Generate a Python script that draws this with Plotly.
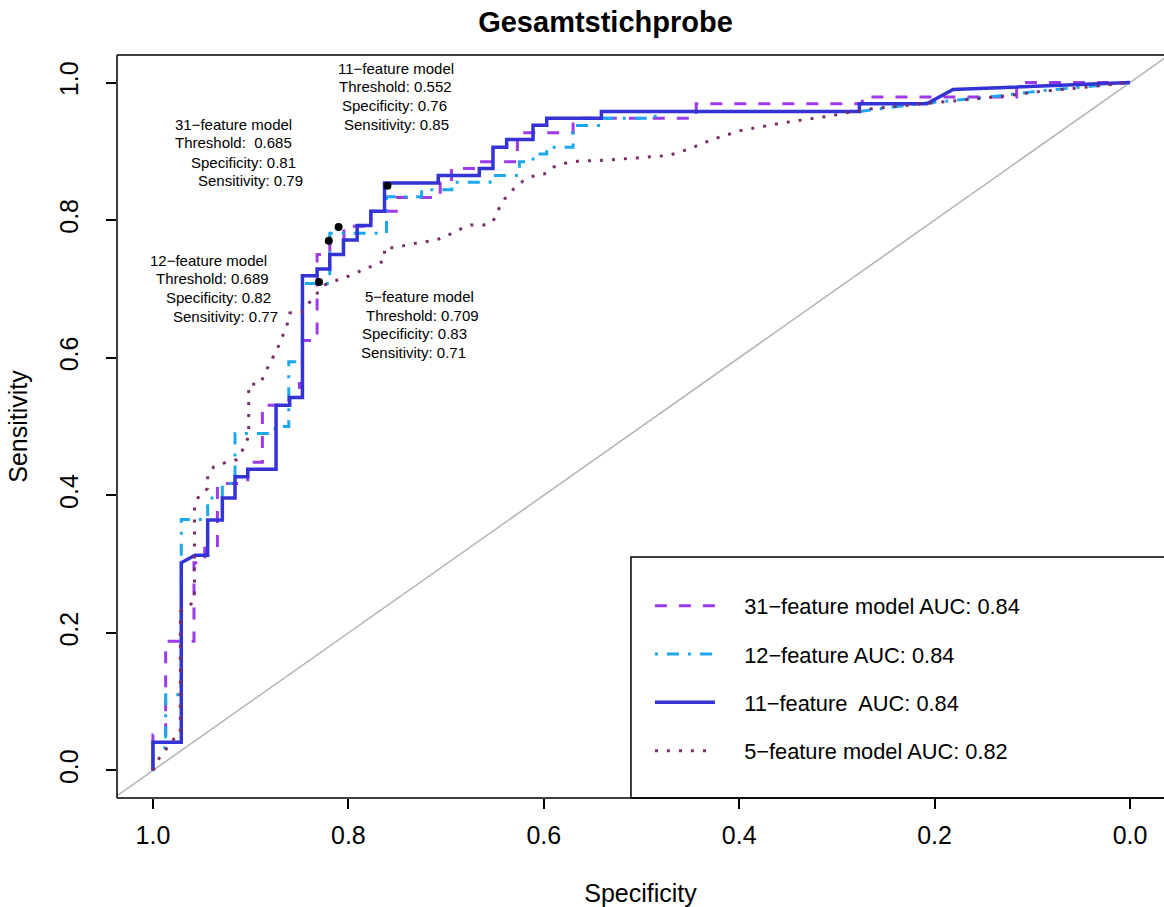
import plotly.graph_objects as go

# ROC curves (specificity, sensitivity) per model
spec_31 = [1.0, 1.0, 0.987, 0.987, 0.958, 0.958, 0.947, 0.947, 0.934, 0.934, 0.903, 0.903,
           0.888, 0.888, 0.861, 0.861, 0.850, 0.850, 0.847, 0.847, 0.832, 0.832, 0.819, 0.819,
           0.8045, 0.8045, 0.777, 0.777, 0.751, 0.751, 0.706, 0.706, 0.6945, 0.6945, 0.666, 0.666,
           0.627, 0.627, 0.570, 0.570, 0.444, 0.444, 0.274, 0.274, 0.116, 0.116, 0.0]
sens_31 = [0.0, 0.052, 0.052, 0.188, 0.188, 0.302, 0.302, 0.323, 0.323, 0.417, 0.417, 0.448,
           0.448, 0.531, 0.531, 0.542, 0.542, 0.5625, 0.5625, 0.625, 0.625, 0.750, 0.750, 0.771,
           0.771, 0.791, 0.791, 0.813, 0.813, 0.833, 0.833, 0.854, 0.854, 0.875, 0.875, 0.885,
           0.885, 0.927, 0.927, 0.948, 0.948, 0.969, 0.969, 0.979, 0.979, 1.0, 1.0]

spec_12 = [1.0, 1.0, 0.987, 0.987, 0.971, 0.971, 0.944, 0.944, 0.929, 0.929, 0.916, 0.916,
           0.875, 0.875, 0.861, 0.861, 0.847, 0.847, 0.819, 0.819, 0.761, 0.761, 0.725, 0.725,
           0.694, 0.694, 0.655, 0.655, 0.625, 0.625, 0.611, 0.611, 0.597, 0.597, 0.570, 0.570,
           0.540, 0.540, 0.486, 0.486, 0.277, 0.210, 0.150, 0.090, 0.0]
sens_12 = [0.0, 0.033, 0.033, 0.110, 0.110, 0.365, 0.365, 0.396, 0.396, 0.417, 0.417, 0.490,
           0.490, 0.500, 0.500, 0.594, 0.594, 0.708, 0.708, 0.781, 0.781, 0.834, 0.834, 0.844,
           0.844, 0.855, 0.855, 0.865, 0.865, 0.885, 0.885, 0.896, 0.896, 0.906, 0.906, 0.9375,
           0.9375, 0.948, 0.948, 0.958, 0.958, 0.970, 0.978, 0.988, 1.0]

spec_11 = [1.0, 1.0, 0.971, 0.971, 0.957, 0.944, 0.944, 0.929, 0.929, 0.916, 0.916, 0.903,
           0.903, 0.874, 0.874, 0.860, 0.860, 0.847, 0.847, 0.832, 0.832, 0.819, 0.819, 0.805,
           0.805, 0.791, 0.791, 0.777, 0.777, 0.763, 0.763, 0.708, 0.708, 0.666, 0.666, 0.652,
           0.652, 0.638, 0.638, 0.611, 0.611, 0.597, 0.597, 0.541, 0.541, 0.277, 0.277, 0.208,
           0.181, 0.040, 0.0]
sens_11 = [0.0, 0.041, 0.041, 0.302, 0.313, 0.313, 0.364, 0.364, 0.396, 0.396, 0.427, 0.427,
           0.438, 0.438, 0.531, 0.531, 0.542, 0.542, 0.719, 0.719, 0.729, 0.729, 0.750, 0.750,
           0.771, 0.771, 0.792, 0.792, 0.813, 0.813, 0.854, 0.854, 0.865, 0.865, 0.875, 0.875,
           0.906, 0.906, 0.917, 0.917, 0.938, 0.938, 0.948, 0.948, 0.958, 0.958, 0.969, 0.969,
           0.990, 0.998, 1.0]

spec_5 = [1.0, 0.994, 0.978, 0.972, 0.972, 0.962, 0.9575, 0.9575, 0.953, 0.944, 0.944, 0.938,
          0.925, 0.914, 0.907, 0.902, 0.902, 0.890, 0.885, 0.879, 0.873, 0.868, 0.863, 0.860,
          0.848, 0.836, 0.824, 0.811, 0.799, 0.786, 0.775, 0.763, 0.763, 0.751, 0.737, 0.724,
          0.710, 0.698, 0.687, 0.675, 0.661, 0.652, 0.647, 0.640, 0.631, 0.621, 0.609, 0.597,
          0.590, 0.577, 0.564, 0.537, 0.498, 0.472, 0.450, 0.428, 0.399, 0.357, 0.304, 0.291,
          0.264, 0.212, 0.171, 0.131, 0.092, 0.053, 0.0]
sens_5 = [0.0, 0.017, 0.047, 0.055, 0.231, 0.239, 0.252, 0.384, 0.399, 0.410, 0.428, 0.441,
          0.448, 0.452, 0.469, 0.486, 0.561, 0.5625, 0.579, 0.595, 0.612, 0.629, 0.646, 0.665,
          0.666, 0.687, 0.706, 0.713, 0.719, 0.727, 0.734, 0.741, 0.760, 0.760, 0.765, 0.768,
          0.771, 0.778, 0.786, 0.793, 0.793, 0.798, 0.814, 0.831, 0.845, 0.857, 0.865, 0.868,
          0.877, 0.883, 0.886, 0.887, 0.891, 0.894, 0.904, 0.917, 0.930, 0.941, 0.952, 0.956,
          0.962, 0.969, 0.974, 0.980, 0.987, 0.992, 1.0]

# Best thresholds per model
thr_models = ["31−feature model", "12−feature model", "11−feature model", "5−feature model"]
thr_values = ["0.685", "0.689", "0.552", "0.709"]
thr_spec = [0.81, 0.82, 0.76, 0.83]
thr_sens = [0.79, 0.77, 0.85, 0.71]

legend_names = ["31−feature model AUC: 0.84", "12−feature AUC: 0.84",
                "11−feature\u00a0 AUC: 0.84", "5−feature model AUC: 0.82"]
colors = ["#9D3BE8", "#1BA8EE", "#3333D6", "#7A2F6C"]
dashes = ["12px,12px", "3px,9px,12px,9px", "solid", "3px,9px"]
widths = [3, 3, 3.5, 3]

tick_vals = [1.0, 0.8, 0.6, 0.4, 0.2, 0.0]
tick_text = ["1.0", "0.8", "0.6", "0.4", "0.2", "0.0"]

FONT = "Liberation Sans, Arial, Helvetica, sans-serif"
LEGEND_PAD = "\u00a0" * 4  # gap between key line and legend text

fig = go.Figure()

# chance line
diag = [1.04, -0.04]
fig.add_trace(go.Scatter(x=diag, y=[1 - v for v in diag], mode="lines",
                         line=dict(color="#B3B3B3", width=1.5),
                         showlegend=False, hoverinfo="skip"))

curves = [(spec_31, sens_31), (spec_12, sens_12), (spec_11, sens_11), (spec_5, sens_5)]
for i, (xs, ys) in enumerate(curves):
    fig.add_trace(go.Scatter(x=xs, y=ys, mode="lines", name=LEGEND_PAD + legend_names[i],
                             legendgroup=f"g{i}",
                             line=dict(color=colors[i], width=widths[i], dash=dashes[i])))

fig.add_trace(go.Scatter(x=thr_spec, y=thr_sens, mode="markers",
                         marker=dict(color="black", size=8), showlegend=False))

# threshold text blocks, one annotation per line
label_left = [[0.9798, 0.9798, 0.9628, 0.9563],
              [1.0054, 0.9990, 0.9884, 0.9816],
              [0.8127, 0.8116, 0.8086, 0.8065],
              [0.7854, 0.7837, 0.7876, 0.7888]]
label_y = [[0.939, 0.9123, 0.8842, 0.8576],
           [0.7413, 0.7147, 0.6870, 0.6603],
           [1.0203, 0.9935, 0.9666, 0.9390],
           [0.689, 0.662, 0.635, 0.608]]
for i in range(4):
    sep = ":\u00a0 " if i == 0 else ": "
    lines = [thr_models[i],
             "Threshold" + sep + thr_values[i],
             "Specificity: " + f"{thr_spec[i]:.2f}",
             "Sensitivity: " + f"{thr_sens[i]:.2f}"]
    for j, txt in enumerate(lines):
        fig.add_annotation(x=label_left[i][j], y=label_y[i][j], text=txt, showarrow=False,
                           xanchor="left", yanchor="middle", xref="x", yref="y",
                           font=dict(size=15, color="black", family=FONT))

# plot frame (right side runs off the page) and legend box
fig.add_shape(type="line", xref="paper", yref="paper", x0=0, x1=0, y0=0, y1=1,
              line=dict(color="black", width=1.5), layer="above")
fig.add_shape(type="line", xref="paper", yref="paper", x0=0, x1=1.01, y0=1, y1=1,
              line=dict(color="black", width=1.5), layer="above")
fig.add_shape(type="line", xref="paper", yref="paper", x0=0, x1=1.01, y0=0, y1=0,
              line=dict(color="black", width=1.5), layer="above")
fig.add_shape(type="rect", xref="paper", yref="paper", x0=0.4909, x1=1.01, y0=0, y1=0.3244,
              line=dict(color="black", width=1.5), fillcolor="white", layer="below")

fig.update_layout(
    width=1164, height=907,
    margin=dict(l=117, r=0, t=55, b=109),
    paper_bgcolor="white", plot_bgcolor="white",
    title=dict(text="<b>Gesamtstichprobe</b>", x=0.5202, xanchor="center",
               y=0.9757, yanchor="middle", font=dict(size=29, color="black", family=FONT)),
    font=dict(family=FONT, color="black"),
    showlegend=True,
    legend=dict(x=0.509, xanchor="left", y=0.2867, yanchor="top",
                bgcolor="rgba(0,0,0,0)", borderwidth=0, tracegroupgap=17,
                itemwidth=60, font=dict(size=21.8, color="black", family=FONT)),
    xaxis=dict(range=[1.0368, -0.0348], autorange=False, tickvals=tick_vals, ticktext=tick_text,
               showgrid=False, zeroline=False, showline=False,
               ticks="outside", ticklen=10, tickwidth=1.5, tickcolor="black",
               ticklabelstandoff=5,
               tickfont=dict(size=25, color="black", family=FONT),
               title=dict(text="Specificity", standoff=37,
                          font=dict(size=25, color="black", family=FONT))),
    yaxis=dict(range=[-0.04, 1.04], autorange=False, tickvals=tick_vals, ticktext=tick_text,
               showgrid=False, zeroline=False, showline=False, tickangle=-90,
               ticks="outside", ticklen=10, tickwidth=1.5, tickcolor="black",
               ticklabelstandoff=18,
               tickfont=dict(size=25, color="black", family=FONT),
               title=dict(text="Sensitivity", standoff=20,
                          font=dict(size=25, color="black", family=FONT))),
)

fig.write_html("out.html")
